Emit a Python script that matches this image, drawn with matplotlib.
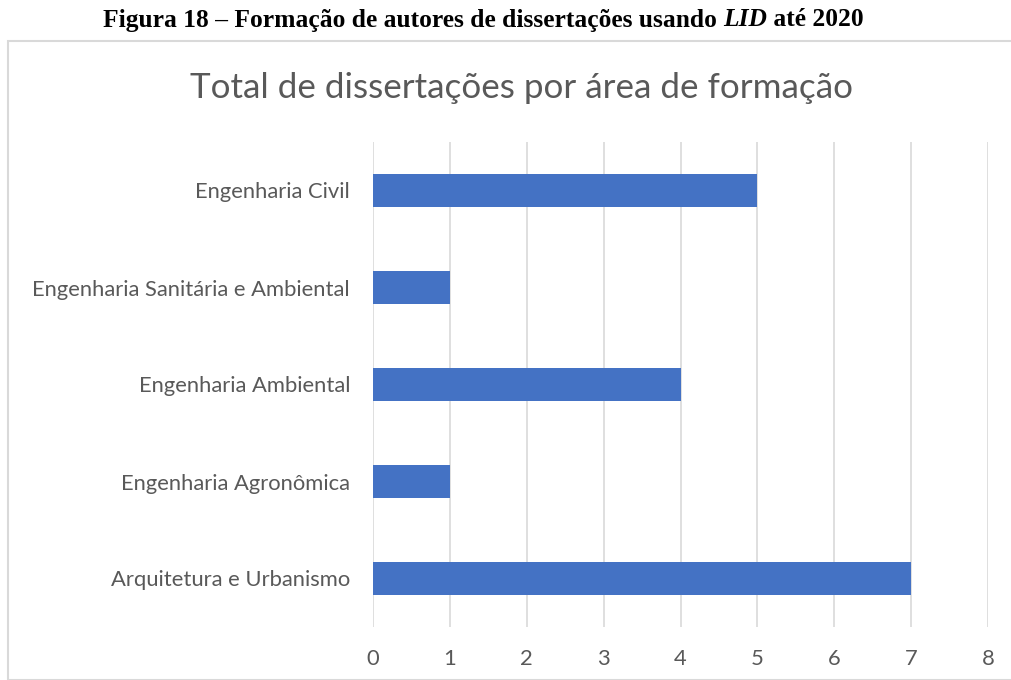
import matplotlib
matplotlib.use("Agg")
import matplotlib.pyplot as plt
from matplotlib.patches import Rectangle

categories = ["Arquitetura e Urbanismo", "Engenharia Agronômica", "Engenharia Ambiental",
              "Engenharia Sanitária e Ambiental", "Engenharia Civil"]
values = [7, 1, 4, 1, 5]
xticks = [0, 1, 2, 3, 4, 5, 6, 7, 8]
chart_title = "Total de dissertações por área de formação"
fig_title_parts = [("Figura 18 – Formação de autores de dissertações usando ", "normal"),
                   ("LID", "italic"), (" até 2020", "normal")]

W, H = 1012, 680
fig = plt.figure(figsize=(W/100, H/100), dpi=100)
fig.patch.set_facecolor("white")

# chart border
fig.patches.append(Rectangle((8/W, 0), 1.2, (H-41)/H, transform=fig.transFigure,
                             fill=False, edgecolor="#d9d9d9", linewidth=1.5))

ax = fig.add_axes([373/W, (H-627)/H, (988-373)/W, (627-142)/H])
ypos = list(range(len(categories)))
ax.barh(ypos, values, height=0.35, color="#4472C4", zorder=3)
ax.set_xlim(0, 8)
ax.set_ylim(-0.5, len(categories)-0.5)
ax.set_xticks(xticks)
ax.set_yticks(ypos)
ax.set_yticklabels(categories)
ax.grid(axis="x", color="#d9d9d9", linewidth=1.2, zorder=0)
for s in ax.spines.values():
    s.set_visible(False)
ax.tick_params(axis="both", length=0, labelcolor="#595959", labelsize=15.8)
ax.tick_params(axis="y", pad=16.5)
ax.tick_params(axis="x", pad=16)
for lbl in ax.get_xticklabels() + ax.get_yticklabels():
    lbl.set_fontfamily("Lato")

fig.text(522/W, 1-88/H, chart_title, ha="center", va="center", fontsize=25.2,
         color="#595959", family="Lato")

# figure caption with mixed styles
fig.canvas.draw()
r = fig.canvas.get_renderer()
texts = []
for s, st in fig_title_parts:
    t = fig.text(0, 1-20/H, s, ha="left", va="center", fontsize=18.4, weight="bold",
                 style=st, family="Liberation Serif")
    texts.append(t)
widths = [t.get_window_extent(r).width for t in texts]
x = 483.5 - sum(widths)/2
for t, w in zip(texts, widths):
    t.set_x(x/W)
    x += w

fig.savefig("out.png", dpi=100, facecolor="white")
